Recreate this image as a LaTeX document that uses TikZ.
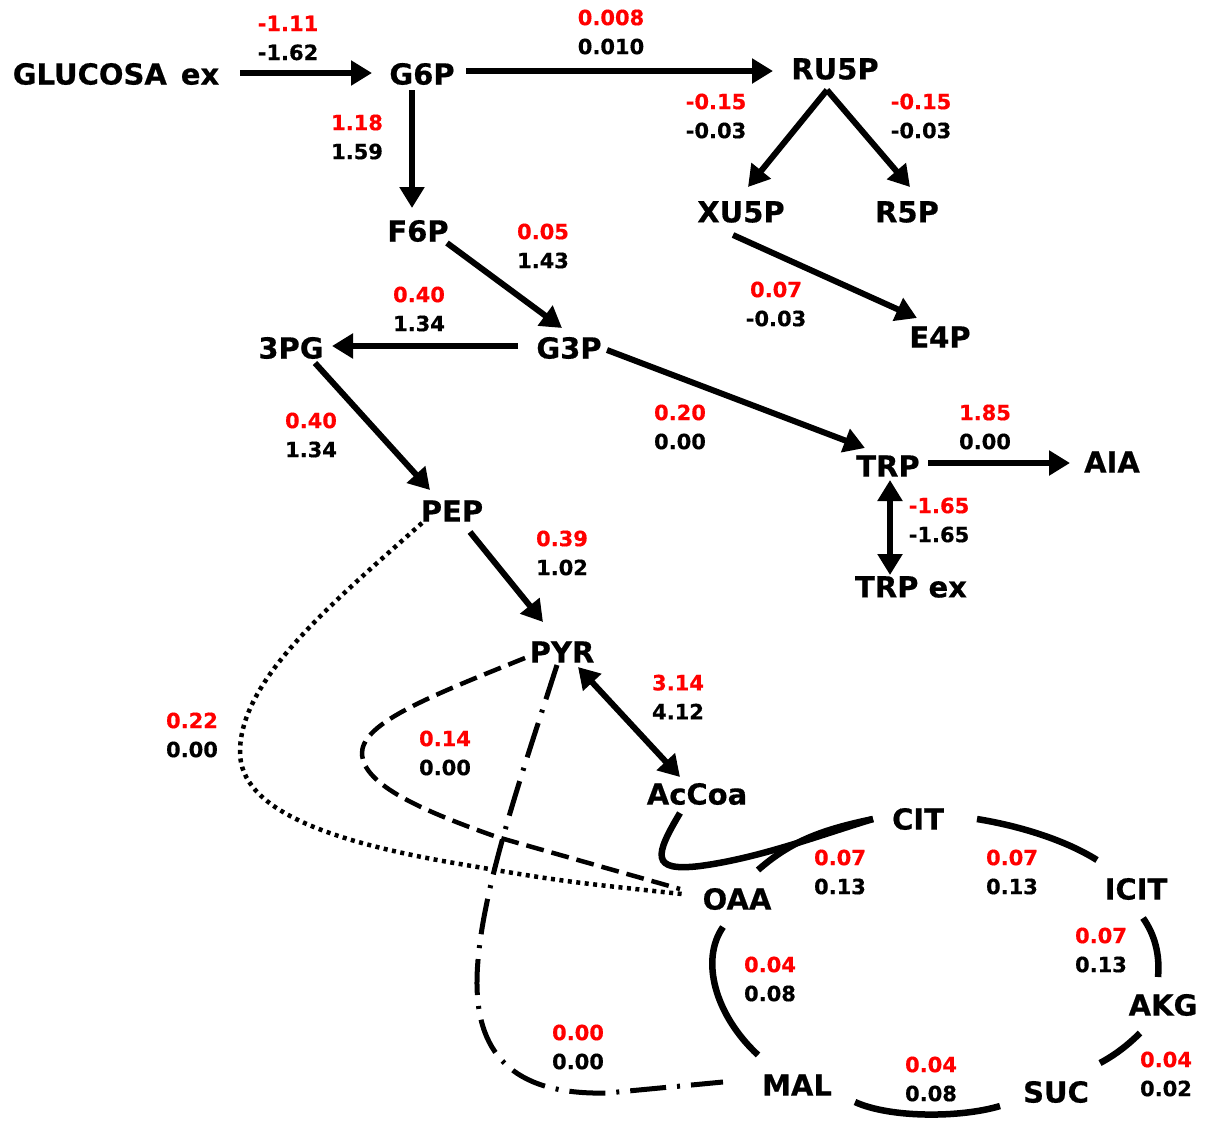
\documentclass[tikz,border=0pt]{standalone}
\usepackage{fontspec}
\setmainfont{DejaVu Sans}[BoldFeatures={FakeBold=0.5}]
\usetikzlibrary{arrows.meta}
\begin{document}
\begin{tikzpicture}[x=1pt,y=-1pt,
  met/.style={font=\fontsize{29}{32}\selectfont\bfseries, inner sep=0pt},
  val/.style={font=\fontsize{21}{29}\selectfont\bfseries, align=center, inner sep=0pt},
  arr/.style={line width=6pt, -{Triangle[length=21pt,width=24pt]}},
  darr/.style={line width=6pt, {Triangle[length=21pt,width=24pt]}-{Triangle[length=21pt,width=24pt]}},
  cyc/.style={line width=6.5pt},
  dotl/.style={line width=4.5pt, dash pattern=on 4pt off 4.5pt},
  dashl/.style={line width=4.5pt, dash pattern=on 18pt off 8pt},
  dashdotl/.style={line width=5pt, dash pattern=on 36pt off 11pt on 3pt off 11pt}
]
\useasboundingbox (0,0) rectangle (1206,1120);

% metabolites
\node[met] (GLU) at (116,74) {GLUCOSA\hspace{14pt}ex};
\node[met] (G6P) at (422,74) {G6P};
\node[met] (RU5P) at (835,69) {RU5P};
\node[met] (F6P) at (418,231) {F6P};
\node[met] (XU5P) at (741,212) {XU5P};
\node[met] (R5P) at (907,212) {R5P};
\node[met] (E4P) at (940,337) {E4P};
\node[met] (PG3) at (291,348) {3PG};
\node[met] (G3P) at (569,348) {G3P};
\node[met] (TRP) at (888,466) {TRP};
\node[met] (AIA) at (1112,462) {AIA};
\node[met] (PEP) at (452,511) {PEP};
\node[met] (TRPex) at (911,587) {TRP ex};
\node[met] (PYR) at (562,652) {PYR};
\node[met] (AcCoa) at (697,794) {AcCoa};
\node[met] (CIT) at (918,819) {CIT};
\node[met] (ICIT) at (1136,889) {ICIT};
\node[met] (OAA) at (737,899) {OAA};
\node[met] (AKG) at (1163,1005) {AKG};
\node[met] (MAL) at (797,1085) {MAL};
\node[met] (SUC) at (1056,1092) {SUC};

% values
\node[val] (v1) at (288,38) {\textcolor{red}{-1.11}\\-1.62};
\node[val] (v2) at (611,32) {\textcolor{red}{0.008}\\0.010};
\node[val] (v3) at (357,137) {\textcolor{red}{1.18}\\1.59};
\node[val] (v4) at (716,116) {\textcolor{red}{-0.15}\\-0.03};
\node[val] (v5) at (921,116) {\textcolor{red}{-0.15}\\-0.03};
\node[val] (v6) at (543,246) {\textcolor{red}{0.05}\\1.43};
\node[val] (v7) at (419,309) {\textcolor{red}{0.40}\\1.34};
\node[val] (v8) at (776,304) {\textcolor{red}{0.07}\\-0.03};
\node[val] (v9) at (311,435) {\textcolor{red}{0.40}\\1.34};
\node[val] (v10) at (680,427) {\textcolor{red}{0.20}\\0.00};
\node[val] (v11) at (985,427) {\textcolor{red}{1.85}\\0.00};
\node[val] (v12) at (939,520) {\textcolor{red}{-1.65}\\-1.65};
\node[val] (v13) at (562,553) {\textcolor{red}{0.39}\\1.02};
\node[val] (v14) at (678,697) {\textcolor{red}{3.14}\\4.12};
\node[val] (v15) at (192,735) {\textcolor{red}{0.22}\\0.00};
\node[val] (v16) at (445,753) {\textcolor{red}{0.14}\\0.00};
\node[val] (v17) at (840,872) {\textcolor{red}{0.07}\\0.13};
\node[val] (v18) at (1012,872) {\textcolor{red}{0.07}\\0.13};
\node[val] (v19) at (1101,950) {\textcolor{red}{0.07}\\0.13};
\node[val] (v20) at (770,979) {\textcolor{red}{0.04}\\0.08};
\node[val] (v21) at (578,1047) {\textcolor{red}{0.00}\\0.00};
\node[val] (v22) at (931,1079) {\textcolor{red}{0.04}\\0.08};
\node[val] (v23) at (1166,1074) {\textcolor{red}{0.04}\\0.02};

% straight arrows
\draw[arr] ([shift={(124,-1)}]GLU.center) -- ([shift={(-50,-1)}]G6P.center);
\draw[arr] ([shift={(44,-3)}]G6P.center) -- ([shift={(-62,2)}]RU5P.center);
\draw[arr] ([shift={(-10,16)}]G6P.center) -- ([shift={(-6,-23)}]F6P.center);
\draw[arr] ([shift={(-8,21)}]RU5P.center) -- ([shift={(7,-25)}]XU5P.center);
\draw[arr] ([shift={(-8,21)}]RU5P.center) -- ([shift={(3,-25)}]R5P.center);
\draw[arr] ([shift={(-8,23)}]XU5P.center) -- ([shift={(-23,-19)}]E4P.center);
\draw[arr] ([shift={(29,12)}]F6P.center) -- ([shift={(-7,-20)}]G3P.center);
\draw[arr] ([shift={(-51,-2)}]G3P.center) -- ([shift={(41,-2)}]PG3.center);
\draw[arr] ([shift={(38,2)}]G3P.center) -- ([shift={(-23,-18)}]TRP.center);
\draw[arr] ([shift={(24,15)}]PG3.center) -- ([shift={(-22,-21)}]PEP.center);
\draw[arr] ([shift={(40,-3)}]TRP.center) -- ([shift={(-42,1)}]AIA.center);
\draw[darr] ([shift={(2,14)}]TRP.center) -- ([shift={(-21,-12)}]TRPex.center);
\draw[arr] ([shift={(18,21)}]PEP.center) -- ([shift={(-19,-30)}]PYR.center);
\draw[darr] ([shift={(16,15)}]PYR.center) -- ([shift={(-17,-17)}]AcCoa.center);

% side branches
\draw[dotl] ([shift={(-30,12)}]PEP.center) .. controls (330,605) and (240,680) .. (240,752)
  .. controls (240,810) and (330,842) .. (460,864) .. controls (560,881) .. ([shift={(-55,-5)}]OAA.center);
\draw[dashl] ([shift={(-37,6)}]PYR.center) .. controls (420,700) and (360,725) .. (362,755)
  .. controls (365,785) and (420,810) .. (497,837) -- ([shift={(-57,-10)}]OAA.center);
\draw[dashdotl] ([shift={(-5,13)}]PYR.center) .. controls (520,780) and (478,900) .. (477,980)
  .. controls (476,1060) and (520,1095) .. (607,1093) -- ([shift={(-74,-3)}]MAL.center);

% TCA cycle
\draw[cyc] ([shift={(-17,19)}]AcCoa.center) .. controls (655,855) and (650,872) .. (700,866)
  .. controls (760,858) and (820,835) .. ([shift={(-45,0)}]CIT.center);
\draw[cyc] ([shift={(21,-29)}]OAA.center) .. controls (790,842) and (820,830) .. ([shift={(-45,0)}]CIT.center);
\draw[cyc] ([shift={(59,0)}]CIT.center) .. controls (1020,826) and (1065,840) .. ([shift={(-39,-29)}]ICIT.center);
\draw[cyc] ([shift={(7,29)}]ICIT.center) .. controls (1155,935) and (1160,955) .. ([shift={(-5,-28)}]AKG.center);
\draw[cyc] ([shift={(-23,28)}]AKG.center) .. controls (1128,1045) and (1115,1055) .. ([shift={(44,-29)}]SUC.center);
\draw[cyc] ([shift={(-56,14)}]SUC.center) .. controls (960,1118) and (890,1118) .. ([shift={(58,17)}]MAL.center);
\draw[cyc] ([shift={(-39,-30)}]MAL.center) .. controls (715,1015) and (700,960) .. ([shift={(-14,28)}]OAA.center);
\end{tikzpicture}
\end{document}
